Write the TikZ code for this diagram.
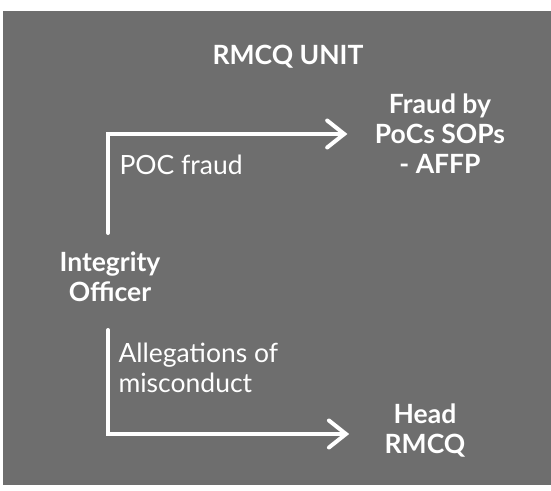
\documentclass[tikz,border=0pt]{standalone}
\usepackage{fontspec}
\setmainfont{Lato}
\usetikzlibrary{arrows.meta}

\definecolor{panelgray}{HTML}{6E6E6E}

\tikzset{
  title/.style={text=white, font=\bfseries\fontsize{26.5}{30}\selectfont, align=center},
  label/.style={text=white, font=\fontsize{26.5}{30.5}\selectfont, align=left, anchor=west},
  flow/.style={draw=white, line width=4pt, line cap=round, line join=miter,
    -{Straight Barb[length=17pt,width=27pt,line cap=round]}}
}

\begin{document}
\begin{tikzpicture}[x=1pt, y=-1pt]
  \useasboundingbox (0,0) rectangle (551,490);
  \fill[panelgray] (3,11) rectangle (551,485);

  \node[title] (unit) at (288,57) {RMCQ UNIT};
  \node[title] (io) at (110,277) {Integrity\\Officer};
  \node[title] (fraud) at (440,134) {Fraud by\\PoCs SOPs\\- AFFP};
  \node[title] (head) at (425,431) {Head\\RMCQ};

	\coordinate (up) at (108,233);
	\coordinate (down) at (108,330);

  \draw[flow] (up) |- ([xshift=-24pt]fraud.west);
  \draw[flow] (down) |- ([xshift=-32pt,yshift=-3pt]head.west);

  \node[label] (poc) at (116,165) {POC fraud};
  \node[label] (alleg) at (115,368) {Allegations of\\misconduct};
\end{tikzpicture}
\end{document}
